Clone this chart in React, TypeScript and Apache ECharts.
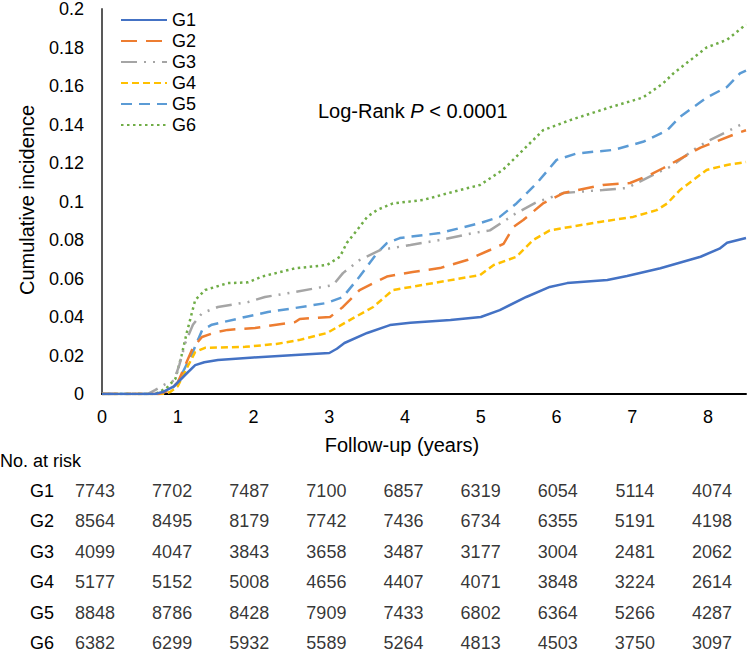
import React, { useEffect, useRef } from "react";
import * as echarts from "echarts";

const groups = ["G1", "G2", "G3", "G4", "G5", "G6"];
const colors = ["#4472C4", "#ED7D31", "#A5A5A5", "#FFC000", "#5B9BD5", "#70AD47"];

const g1 = [[0,0],[0.7,0],[0.8,0.001],[0.95,0.004],[1.1,0.01],[1.23,0.015],[1.35,0.0165],[1.53,0.0177],[2.0,0.019],[2.55,0.0203],[3.0,0.0213],[3.1,0.0235],[3.2,0.0265],[3.5,0.0317],[3.8,0.0358],[4.07,0.037],[4.6,0.0384],[5.0,0.040],[5.25,0.0436],[5.6,0.0504],[5.91,0.0556],[6.14,0.0576],[6.67,0.0592],[6.93,0.0613],[7.37,0.0653],[7.9,0.0713],[8.15,0.0755],[8.25,0.0786],[8.5,0.081]];
const g2 = [[0,0],[0.75,0],[0.9,0.002],[1.0,0.006],[1.1,0.015],[1.2,0.024],[1.32,0.0296],[1.49,0.032],[1.66,0.0333],[2.02,0.0343],[2.3,0.036],[2.55,0.0374],[2.61,0.039],[3.01,0.040],[3.18,0.0452],[3.4,0.054],[3.76,0.061],[4.1,0.0634],[4.46,0.0654],[4.82,0.0696],[5.12,0.0748],[5.3,0.078],[5.43,0.0868],[5.56,0.0904],[5.82,0.099],[6.09,0.1044],[6.61,0.1086],[6.97,0.1096],[7.23,0.1138],[7.41,0.1174],[7.9,0.128],[8.42,0.136],[8.5,0.137]];
const g3 = [[0,0],[0.6,0],[0.7,0.002],[0.83,0.005],[0.95,0.007],[1.02,0.015],[1.1,0.0265],[1.2,0.036],[1.32,0.042],[1.53,0.0452],[1.93,0.0478],[2.15,0.0504],[2.55,0.053],[3.05,0.0566],[3.18,0.0628],[3.4,0.0696],[3.67,0.0748],[4.07,0.0774],[4.46,0.08],[4.9,0.0836],[5.12,0.085],[5.47,0.094],[5.74,0.0997],[6.09,0.1044],[6.61,0.106],[6.93,0.107],[7.32,0.1148],[7.5,0.118],[7.85,0.128],[8.03,0.132],[8.42,0.1397],[8.5,0.141]];
const g4 = [[0,0],[0.8,0],[0.9,0.001],[1.0,0.004],[1.1,0.012],[1.23,0.0218],[1.36,0.024],[1.89,0.0245],[2.3,0.026],[2.6,0.028],[2.97,0.0317],[3.27,0.0384],[3.58,0.0452],[3.84,0.054],[4.37,0.0576],[4.99,0.0618],[5.17,0.067],[5.47,0.0713],[5.69,0.08],[5.91,0.085],[6.57,0.0894],[7.01,0.092],[7.32,0.0955],[7.46,0.099],[7.63,0.106],[7.98,0.1164],[8.25,0.119],[8.5,0.1205]];
const g5 = [[0,0],[0.75,0],[0.9,0.002],[1.0,0.006],[1.1,0.014],[1.19,0.021],[1.32,0.033],[1.45,0.036],[1.89,0.040],[2.19,0.0426],[2.55,0.0447],[2.97,0.0473],[3.18,0.0504],[3.4,0.061],[3.63,0.0732],[3.76,0.0784],[3.93,0.081],[4.46,0.0836],[4.99,0.0888],[5.25,0.092],[5.47,0.099],[5.74,0.1096],[6.0,0.1216],[6.27,0.125],[6.75,0.1268],[7.14,0.131],[7.46,0.137],[7.63,0.144],[7.98,0.154],[8.25,0.1595],[8.42,0.1665],[8.5,0.168]];
const g6 = [[0,0],[0.7,0],[0.85,0.003],[0.97,0.008],[1.05,0.02],[1.12,0.032],[1.23,0.0488],[1.36,0.054],[1.66,0.0576],[1.93,0.058],[2.11,0.061],[2.55,0.0653],[2.97,0.067],[3.14,0.0713],[3.23,0.0784],[3.4,0.0868],[3.5,0.092],[3.63,0.0956],[3.84,0.099],[4.24,0.1008],[4.63,0.105],[4.99,0.1086],[5.29,0.1164],[5.56,0.1268],[5.82,0.137],[6.18,0.1423],[6.71,0.149],[7.14,0.154],[7.41,0.1615],[7.54,0.1665],[7.98,0.18],[8.25,0.184],[8.5,0.192]];
const curves = [g1, g2, g3, g4, g5, g6];

const riskG1 = [7743, 7702, 7487, 7100, 6857, 6319, 6054, 5114, 4074];
const riskG2 = [8564, 8495, 8179, 7742, 7436, 6734, 6355, 5191, 4198];
const riskG3 = [4099, 4047, 3843, 3658, 3487, 3177, 3004, 2481, 2062];
const riskG4 = [5177, 5152, 5008, 4656, 4407, 4071, 3848, 3224, 2614];
const riskG5 = [8848, 8786, 8428, 7909, 7433, 6802, 6364, 5266, 4287];
const riskG6 = [6382, 6299, 5932, 5589, 5264, 4813, 4503, 3750, 3097];
const riskRows = [riskG1, riskG2, riskG3, riskG4, riskG5, riskG6];

const dashes: any[] = ["solid", [16, 9], [16, 7, 2, 7, 2, 7], [7, 4], [11, 7], [2.5, 3.5]];

const FONT = "'Liberation Sans', Arial, sans-serif";

export default function App() {
  const ref = useRef<HTMLDivElement>(null);
  useEffect(() => {
    const chart = echarts.init(ref.current!, null, { renderer: "svg" });
    const tableData: any[] = [];
    riskRows.forEach((row, r) => row.forEach((v, c) => tableData.push([c, r + 1, v])));
    chart.setOption({
      animation: false,
      textStyle: { fontFamily: FONT },
      grid: [
        { left: 102, top: 9, width: 644, height: 385, outerBoundsMode: "none", containLabel: false },
        { left: 95, right: 36, top: 491, height: 152, outerBoundsMode: "none", containLabel: false },
      ],
      legend: {
        orient: "vertical",
        left: 120,
        top: 11,
        padding: 0,
        itemWidth: 46,
        itemHeight: 20,
        itemGap: 3,
        itemStyle: { opacity: 0 },
        textStyle: { fontSize: 18, color: "#000", fontFamily: FONT },
        data: groups,
      },
      xAxis: [
        {
          type: "value",
          gridIndex: 0,
          min: 0,
          max: 8.5,
          interval: 1,
          splitLine: { show: false },
          axisTick: { show: false },
          axisLine: { lineStyle: { color: "#000", width: 2 } },
          axisLabel: {
            fontSize: 18,
            color: "#000",
            margin: 14,
            fontFamily: FONT,
            showMaxLabel: false,
            formatter: (v: number) => (Number.isInteger(v) ? String(v) : ""),
          },
        },
        { type: "value", gridIndex: 1, min: 0, max: 8, show: false },
      ],
      yAxis: [
        {
          type: "value",
          gridIndex: 0,
          min: 0,
          max: 0.2,
          interval: 0.02,
          splitLine: { show: false },
          axisTick: { show: false },
          axisLine: { show: true, lineStyle: { color: "#595959", width: 2 } },
          axisLabel: {
            fontSize: 18,
            color: "#000",
            margin: 18,
            fontFamily: FONT,
            formatter: (v: number) => String(parseFloat(v.toFixed(2))),
          },
        },
        {
          type: "value",
          gridIndex: 1,
          min: 1,
          max: 6,
          interval: 1,
          inverse: true,
          splitLine: { show: false },
          axisTick: { show: false },
          axisLine: { show: false },
          axisLabel: {
            fontSize: 18,
            color: "#000",
            margin: 41,
            fontFamily: FONT,
            formatter: (v: number) => groups[v - 1] || "",
          },
        },
      ],
      series: [
        ...curves.map((d, i) => ({
          name: groups[i],
          type: "line",
          xAxisIndex: 0,
          yAxisIndex: 0,
          data: d,
          showSymbol: false,
          symbol: "none",
          lineStyle: { color: colors[i], width: 2.5, type: dashes[i] },
          itemStyle: { color: colors[i] },
          z: 10 - i,
        })),
        {
          type: "scatter",
          xAxisIndex: 1,
          yAxisIndex: 1,
          data: tableData,
          symbolSize: 1,
          itemStyle: { color: "rgba(0,0,0,0)" },
          label: {
            show: true,
            position: "inside",
            fontSize: 18,
            color: "#000",
            fontFamily: FONT,
            formatter: (p: any) => String(p.value[2]),
          },
          silent: true,
        },
      ],
      graphic: [
        {
          type: "text",
          x: 27,
          y: 200,
          rotation: Math.PI / 2,
          style: {
            text: "Cumulative incidence",
            fontSize: 20,
            fill: "#000",
            fontFamily: FONT,
            align: "center",
            verticalAlign: "middle",
          },
        },
        {
          type: "text",
          x: 402,
          y: 445,
          style: {
            text: "Follow-up (years)",
            fontSize: 20,
            fill: "#000",
            fontFamily: FONT,
            align: "center",
            verticalAlign: "middle",
          },
        },
        {
          type: "text",
          x: 318,
          y: 111,
          style: {
            text: "{a|Log-Rank }{b|P}{a| < 0.0001}",
            fill: "#000",
            align: "left",
            verticalAlign: "middle",
            rich: {
              a: { fontSize: 20, fontFamily: FONT, fill: "#000" },
              b: { fontSize: 20, fontFamily: FONT, fontStyle: "italic", fill: "#000" },
            },
          },
        },
        {
          type: "text",
          x: 0,
          y: 461,
          style: {
            text: "No. at risk",
            fontSize: 18,
            fill: "#000",
            fontFamily: FONT,
            align: "left",
            verticalAlign: "middle",
          },
        },
      ],
    });
    return () => chart.dispose();
  }, []);
  return (
    <div
      ref={ref}
      style={{ position: "absolute", left: 0, top: 0, width: 748, height: 654 }}
    />
  );
}
